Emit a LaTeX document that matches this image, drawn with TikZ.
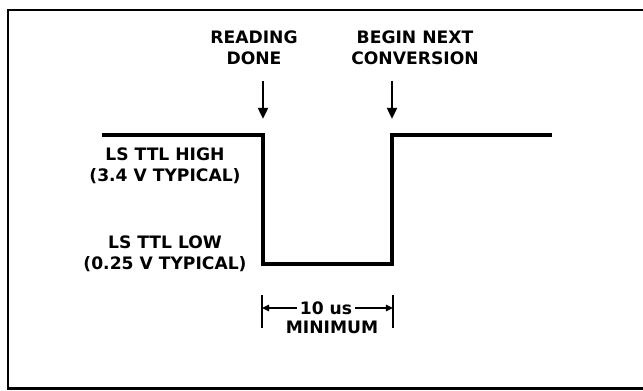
\documentclass[tikz,border=0pt]{standalone}
\usepackage{fontspec}
\newfontfamily\labelfont{DejaVu Sans}
\usetikzlibrary{arrows.meta}
\begin{document}
\begin{tikzpicture}[
    lbl/.style={font=\labelfont\bfseries\fontsize{12.2}{14.6}\selectfont, align=center, inner sep=0pt},
    sig/.style={line width=2.5pt, line join=miter},
    mark arrow/.style={line width=1.9pt, -{Triangle[length=8pt,width=7pt]}},
    dim arrow/.style={line width=1.4pt, -{Triangle[length=5pt,width=4.5pt]}},
  ]
  \useasboundingbox (0,0) rectangle (16.075,9.75);
  % frame
  \draw[line width=1.8pt] (16.2,9.5) -- (0.2,9.5) -- (0.2,0.04) -- (16.2,0.04);
  % levels
  \def\yhi{6.375}
  \def\ylo{3.15}
  \def\xa{6.575}
  \def\xb{9.8}
  \coordinate (H0) at (2.55,\yhi);
  \coordinate (H1) at (\xa,\yhi);
  \coordinate (L1) at (\xa,\ylo);
  \coordinate (L2) at (\xb,\ylo);
  \coordinate (H2) at (\xb,\yhi);
  \coordinate (H3) at (13.8,\yhi);
  \draw[sig] (H0) -- (H1) -- (L1) -- (L2) -- (H2) -- (H3);
  % event labels
  \node[lbl] (done) at (6.35,8.56) {READING\\DONE};
  \node[lbl] (next) at (10.375,8.56) {BEGIN NEXT\\CONVERSION};
  \coordinate (DA) at (\xa,7.725);
  \coordinate (DB) at (\xa,6.775);
  \coordinate (NA) at (\xb,7.725);
  \coordinate (NB) at (\xb,6.775);
  \draw[mark arrow] (DA) -- (DB);
  \draw[mark arrow] (NA) -- (NB);
  % level labels
  \node[lbl] (high) at (4.125,5.6) {LS TTL HIGH\\(3.4 V TYPICAL)};
  \node[lbl] (low) at (4.125,3.4) {LS TTL LOW\\(0.25 V TYPICAL)};
  % minimum width
  \def\xl{6.55}
  \def\xr{9.825}
  \coordinate (BL1) at (\xl,2.375);
  \coordinate (BL2) at (\xl,1.55);
  \coordinate (BR1) at (\xr,2.375);
  \coordinate (BR2) at (\xr,1.55);
  \draw[line width=1.8pt] (BL1) -- (BL2);
  \draw[line width=1.8pt] (BR1) -- (BR2);
  \node[lbl, inner xsep=2pt] (ten) at (8.15,2.05) {10 us};
  \node[lbl] (min) at (8.3,1.575) {MINIMUM};
  \draw[dim arrow] (ten.west) -- (ten.west -| BL1);
  \draw[dim arrow] (ten.east) -- (ten.east -| BR1);
\end{tikzpicture}
\end{document}
